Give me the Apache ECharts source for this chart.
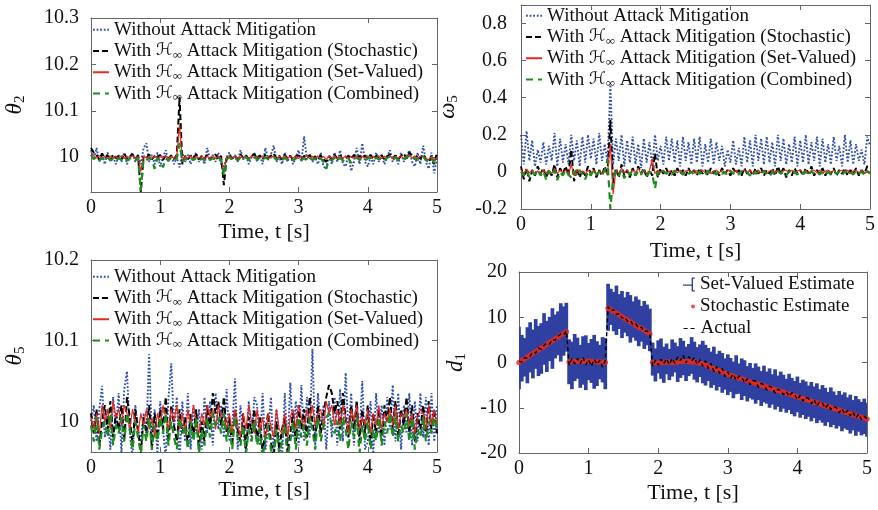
<!DOCTYPE html>
<html><head><meta charset="utf-8">
<script src="https://cdn.jsdelivr.net/npm/echarts@6/dist/echarts.min.js"></script>
<style>html,body{margin:0;padding:0;background:#fff}#c{width:878px;height:510px}</style>
</head><body><div id="c"></div>
<script>
// ---------- data ----------
const T = [0,0.04,0.08,0.12,0.16,0.2,0.24,0.28,0.32,0.36,
0.4,0.44,0.48,0.52,0.56,0.6,0.64,0.68,0.72,0.76,
0.8,0.84,0.88,0.92,0.96,1,1.04,1.08,1.12,1.16,
1.2,1.24,1.28,1.32,1.36,1.4,1.44,1.48,1.52,1.56,
1.6,1.64,1.68,1.72,1.76,1.8,1.84,1.88,1.92,1.96,
2,2.04,2.08,2.12,2.16,2.2,2.24,2.28,2.32,2.36,
2.4,2.44,2.48,2.52,2.56,2.6,2.64,2.68,2.72,2.76,
2.8,2.84,2.88,2.92,2.96,3,3.04,3.08,3.12,3.16,
3.2,3.24,3.28,3.32,3.36,3.4,3.44,3.48,3.52,3.56,
3.6,3.64,3.68,3.72,3.76,3.8,3.84,3.88,3.92,3.96,
4,4.04,4.08,4.12,4.16,4.2,4.24,4.28,4.32,4.36,
4.4,4.44,4.48,4.52,4.56,4.6,4.64,4.68,4.72,4.76,
4.8,4.84,4.88,4.92,4.96,5];

const NAMES = ['Without Attack Mitigation',
  'With ℋ∞ Attack Mitigation (Stochastic)',
  'With ℋ∞ Attack Mitigation (Set-Valued)',
  'With ℋ∞ Attack Mitigation (Combined)'];

// theta_2
const TH2_NO = [10.015,9.995,10.02,9.99,10.005,9.985,10.01,9.99,10.0,9.985,
10.005,9.99,10.01,9.985,10.0,10.01,9.99,10.005,9.985,10.02,
10.03,9.99,10.005,9.985,10.01,9.98,10.0,10.015,9.99,10.005,
9.985,10.0,9.978,10.01,9.99,10.005,9.985,10.0,10.01,9.99,
10.0,9.985,10.02,9.995,10.005,9.99,10.01,9.985,9.98,10.0,
10.01,9.995,10.005,9.99,10.015,9.995,10.005,9.985,10.0,10.01,
9.99,10.005,9.985,10.02,9.995,10.005,10.025,9.99,10.0,9.985,
10.01,9.99,10.005,9.985,10.0,10.015,9.99,10.045,9.995,10.005,
9.99,10.0,9.985,10.01,9.98,9.975,10.005,9.985,10.01,9.99,
10.015,9.985,9.98,10.005,9.97,9.99,10.02,9.985,10.03,9.99,
9.98,10.0,9.985,10.01,9.99,10.005,9.985,10.0,10.015,9.99,
10.005,9.985,10.01,9.99,10.0,10.015,9.99,9.98,10.01,9.985,
10.025,9.99,9.975,10.01,9.965,10.0];
const TH2_ST = [10.02,10.01,10.005,9.995,10.008,9.998,10.004,9.993,10.006,9.998,
10.003,9.995,10.008,9.997,10.002,10.006,9.996,10.004,9.925,10.002,
9.997,10.006,9.995,10.003,9.999,10.005,9.994,10.003,9.997,10.004,
9.996,10.005,10.13,9.985,10.003,9.996,10.004,9.998,10.006,9.995,
10.003,9.997,10.005,9.994,10.002,10.006,9.996,10.003,9.94,9.998,
10.005,9.997,10.003,9.995,10.006,9.998,10.004,9.996,10.002,10.007,
9.997,10.004,9.995,10.006,9.998,10.003,10.008,9.997,10.003,9.995,
10.005,9.997,10.003,9.994,10.002,10.004,9.996,10.003,9.998,10.005,
9.996,10.002,9.994,10.004,9.995,9.99,10.002,9.996,10.005,9.997,
10.004,9.995,9.998,10.003,9.996,10.005,9.998,10.003,9.996,10.004,
9.998,10.005,9.996,10.003,9.997,10.004,9.995,10.002,10.006,9.998,
10.004,9.996,10.003,10.008,9.997,10.01,10.004,9.996,10.005,9.997,
10.006,9.996,9.99,10.003,9.985,10.01];
const TH2_SV = [10.01,10.004,9.998,10.003,9.997,10.002,9.998,10.003,9.997,10.002,
9.998,10.003,9.997,10.002,9.998,10.004,9.997,10.002,9.97,10.003,
9.998,10.002,9.997,10.003,9.996,10.002,9.998,10.003,9.997,10.002,
9.998,10.003,10.07,9.99,10.002,9.998,10.003,9.997,10.002,9.998,
10.003,9.997,10.002,9.998,10.004,9.997,10.002,9.998,9.965,10.002,
10.003,9.997,10.002,9.998,10.004,9.998,10.002,9.997,10.003,9.998,
10.002,9.998,10.003,9.997,10.002,9.998,10.003,9.997,10.002,9.998,
10.003,9.997,10.002,9.998,10.003,9.997,10.002,9.998,10.004,9.997,
10.002,9.998,10.003,9.997,10.002,9.995,10.002,9.998,10.003,9.997,
10.002,9.998,10.003,9.997,10.002,9.998,10.003,9.997,10.002,9.998,
10.003,9.997,10.002,9.998,10.003,9.997,10.002,9.998,10.004,9.997,
10.002,9.998,10.003,9.997,10.002,10.005,9.998,10.003,9.997,10.002,
10.003,9.997,9.995,10.002,9.992,10.0];
const TH2_CO = [10.005,9.996,10.0,9.993,9.998,9.994,10.0,9.993,9.997,9.992,
9.998,9.994,10.0,9.993,9.997,10.0,9.993,9.998,9.928,9.996,
9.993,9.999,9.994,9.975,9.998,9.993,9.978,9.997,9.993,9.999,
9.994,9.997,10.03,9.99,9.997,9.993,9.999,9.994,9.998,9.992,
9.997,9.993,9.999,9.994,9.998,9.993,9.999,9.994,9.96,9.995,
10.0,9.994,9.998,9.993,9.999,9.995,10.0,9.994,9.998,10.001,
9.995,9.999,9.994,10.0,9.995,9.998,10.001,9.994,9.998,9.993,
9.999,9.994,9.998,9.993,9.997,10.0,9.994,9.998,9.993,9.999,
9.994,9.997,9.992,9.998,9.99,9.975,9.996,9.993,9.999,9.994,
9.998,9.993,9.99,9.997,9.988,9.994,9.999,9.994,9.998,9.993,
9.997,10.0,9.994,9.999,9.995,9.998,9.993,9.999,10.001,9.995,
9.999,9.994,9.998,9.995,10.0,10.002,9.995,9.999,9.994,9.998,
10.001,9.994,9.99,9.998,9.988,9.996];

// omega_5
const OM5_NO = [0.2,0.04,0.22,0.06,0.17,0.03,0.12,0.05,0.16,0.04,
0.14,0.06,0.21,0.03,0.18,0.05,0.15,0.04,0.2,0.06,
0.17,0.03,0.19,0.05,0.2,0.07,0.18,0.04,0.21,0.06,
0.15,0.05,0.47,0.04,0.18,0.06,0.2,0.03,0.17,0.05,
0.19,0.04,0.15,0.02,0.18,0.05,0.16,0.03,0.2,0.06,
0.14,0.04,0.19,0.06,0.18,0.05,0.17,0.03,0.19,0.06,
0.16,0.04,0.18,0.05,0.19,0.03,0.15,0.05,0.18,0.04,
0.16,0.06,0.14,0.03,0.12,0.05,0.17,0.04,0.13,0.03,
0.19,0.05,0.17,0.03,0.2,0.06,0.18,0.04,0.19,0.05,
0.16,0.03,0.2,0.06,0.18,0.04,0.15,0.05,0.19,0.03,
0.17,0.05,0.2,0.04,0.16,0.06,0.19,0.03,0.18,0.05,
0.15,0.04,0.19,0.06,0.14,0.03,0.2,0.05,0.17,0.04,
0.15,0.06,0.12,0.04,0.19,0.14];
const OM5_ST = [0.03,-0.04,0.02,-0.05,0.01,-0.02,0.03,-0.01,0.02,-0.03,
0.01,-0.02,0.04,-0.03,0.02,-0.01,0.03,-0.02,0.12,-0.05,
0.02,-0.03,0.01,-0.02,0.03,-0.01,0.02,-0.03,0.01,-0.02,
0.03,-0.02,0.28,-0.06,0.02,-0.03,0.04,-0.02,0.01,-0.03,
0.02,-0.02,0.03,-0.01,0.02,-0.03,0.01,-0.02,0.1,-0.03,
0.02,-0.01,0.02,-0.02,0.01,-0.02,0.02,-0.01,0.01,-0.02,
0.02,-0.01,0.01,-0.02,0.02,-0.01,0.01,-0.02,0.02,-0.01,
0.01,-0.02,0.02,-0.01,0.01,-0.02,0.02,-0.01,0.01,-0.02,
0.02,-0.01,0.01,-0.02,0.02,-0.01,0.02,-0.02,0.01,-0.01,
0.02,-0.02,0.03,-0.01,0.02,-0.03,0.01,-0.02,0.02,-0.01,
0.01,-0.02,0.02,-0.01,0.03,-0.02,0.01,-0.01,0.02,-0.02,
0.01,-0.01,0.02,-0.02,0.01,-0.01,0.02,-0.02,0.01,-0.01,
0.02,-0.02,0.01,-0.01,0.03,0.04];
const OM5_SV = [0.01,-0.01,0.015,-0.005,0.01,-0.01,0.005,-0.01,0.01,-0.005,
0.01,-0.01,0.02,-0.01,0.01,-0.005,0.01,-0.01,0.04,-0.02,
0.01,-0.01,0.005,-0.01,0.01,-0.005,0.01,-0.01,0.005,-0.01,
0.01,-0.01,0.15,-0.12,0.01,-0.01,0.02,-0.005,0.01,-0.01,
0.01,-0.005,0.02,-0.01,0.01,-0.01,0.005,0.07,-0.01,0.01,
-0.005,0.01,-0.01,0.005,-0.005,0.01,-0.005,0.01,-0.01,0.005,
0.01,-0.005,0.01,-0.01,0.005,0.01,-0.005,0.01,-0.01,0.005,
0.01,-0.005,0.01,-0.01,0.005,0.01,-0.005,0.01,-0.01,0.005,
0.01,-0.005,0.01,-0.01,0.005,0.01,-0.005,0.01,-0.01,0.005,
0.01,-0.005,0.01,-0.01,0.005,0.01,-0.005,0.01,-0.01,0.005,
0.01,-0.005,0.01,-0.01,0.005,0.01,-0.005,0.01,-0.01,0.005,
0.01,-0.005,0.01,-0.01,0.005,0.01,-0.005,0.01,-0.01,0.005,
0.01,-0.005,0.01,-0.01,0.005,0.0];
const OM5_CO = [0.0,-0.02,0.01,-0.03,0.0,-0.015,0.01,-0.02,0.005,-0.04,
0.005,-0.02,0.01,-0.045,0.0,-0.02,0.01,-0.015,-0.03,0.005,
-0.02,0.01,-0.015,-0.04,0.005,-0.02,0.01,-0.015,0.0,-0.02,
0.01,0.065,-0.2,-0.03,0.005,-0.02,0.01,-0.035,0.0,-0.015,
0.01,-0.02,0.005,-0.015,0.01,-0.02,0.0,-0.01,-0.09,0.0,
-0.015,0.005,-0.01,0.0,-0.015,0.005,-0.01,0.0,-0.015,0.005,
-0.01,0.0,-0.015,0.005,-0.01,0.0,-0.015,0.005,-0.01,0.0,
-0.015,0.005,-0.01,0.0,-0.02,0.005,-0.01,0.0,-0.015,0.005,
-0.01,0.0,-0.02,0.005,-0.01,0.0,-0.015,0.005,-0.01,-0.025,
0.0,-0.015,0.005,-0.01,0.0,-0.02,0.005,-0.01,0.0,-0.015,
0.005,-0.01,0.0,-0.02,0.005,-0.01,0.0,-0.015,0.005,-0.01,
0.0,-0.015,0.005,-0.01,0.0,-0.02,0.005,-0.01,0.0,-0.015,
0.005,-0.01,0.0,-0.015,0.005,-0.01];

// theta_5
const TH5_NO = [10.0,10.02,9.975,10.015,10.044,9.98,10.01,9.965,10.03,9.99,
10.035,9.96,10.04,10.062,9.985,9.955,10.02,9.99,9.975,10.01,
9.985,10.083,9.975,10.015,9.96,10.025,9.99,9.955,10.03,10.072,
9.99,10.03,9.95,10.025,9.975,10.035,9.965,10.02,9.985,10.015,
9.965,10.03,9.985,10.025,9.97,10.035,9.99,10.02,9.98,10.04,
9.975,9.99,10.053,9.965,10.02,9.985,9.96,10.025,9.975,10.03,
10.02,9.97,10.035,9.965,9.99,10.03,9.96,10.015,9.975,9.95,
10.035,9.97,10.048,9.98,10.025,9.97,10.045,9.975,10.03,9.98,
10.09,9.97,10.035,9.985,10.02,9.965,10.025,9.98,10.03,9.97,
10.04,9.975,10.06,9.985,10.035,9.97,10.025,9.98,10.05,9.965,
9.975,10.025,9.96,10.035,9.985,10.02,9.97,10.03,9.99,10.045,
9.975,10.035,9.965,10.02,9.985,10.035,9.97,10.025,9.975,10.035,
9.98,10.03,9.97,10.035,9.975,10.02];
const TH5_ST = [10.01,9.985,10.015,9.97,10.0,10.02,9.99,10.025,9.98,10.01,
9.99,10.02,9.975,10.03,10.005,9.97,10.015,9.99,9.96,10.005,
9.985,10.02,9.965,10.01,9.98,10.015,9.99,10.03,9.975,10.02,
9.995,9.975,10.015,9.985,10.005,9.97,10.01,9.98,10.015,9.965,
10.0,9.975,10.02,9.99,10.035,10.01,10.025,9.995,10.03,9.985,
10.005,9.97,10.015,9.99,9.975,10.01,9.965,10.005,9.985,10.015,
9.975,10.005,9.96,9.99,10.01,9.975,9.955,10.0,9.965,9.99,
10.005,9.96,9.985,10.01,9.975,10.02,9.99,10.015,9.98,10.03,
10.0,9.975,10.02,9.985,10.01,10.03,10.045,10.035,10.01,10.025,
9.99,10.035,10.005,9.98,10.02,9.99,10.025,9.975,10.015,9.985,
10.02,9.97,10.01,9.985,10.015,9.975,10.02,10.0,10.03,9.99,
10.025,9.98,10.015,9.995,10.03,9.985,10.02,9.975,10.01,9.99,
10.02,9.98,10.025,9.99,10.015,9.985];
const TH5_SV = [10.005,9.99,10.01,9.985,10.02,10.0,10.015,9.99,10.025,10.005,
10.015,9.995,10.02,10.01,9.99,10.015,10.0,9.985,10.01,9.995,
10.015,9.99,10.005,9.98,10.01,9.995,10.02,10.005,9.99,10.015,
10.0,10.02,9.99,10.01,9.985,10.015,9.995,10.02,10.0,9.985,
10.01,9.995,10.02,10.005,10.015,9.99,10.02,10.005,10.01,9.99,
10.01,9.985,10.015,9.995,9.98,10.01,9.99,10.02,10.0,9.985,
10.015,9.99,10.005,9.975,10.01,9.995,9.98,10.015,9.99,9.985,
10.01,9.98,10.005,10.015,9.99,10.02,10.005,9.99,10.015,10.0,
10.02,9.995,10.01,10.015,9.99,10.025,10.01,10.02,9.995,10.015,
9.995,10.02,10.005,9.985,10.015,10.0,10.02,9.99,10.005,9.995,
10.015,9.985,10.01,9.995,10.02,9.99,10.01,10.0,10.015,9.995,
10.02,9.99,10.01,10.005,10.015,9.995,10.01,9.985,10.005,10.015,
10.01,9.99,10.02,9.995,10.015,9.995];
const TH5_CO = [9.995,9.975,10.005,9.965,9.99,10.0,9.98,10.01,9.97,9.995,
9.985,10.005,9.975,10.01,9.99,9.965,10.0,9.98,9.96,9.995,
9.975,10.005,9.965,9.995,9.975,10.005,9.985,10.01,9.97,10.0,
9.98,9.965,10.005,9.985,9.995,9.965,10.0,9.975,10.005,9.96,
9.99,9.97,10.005,9.98,10.01,9.995,10.005,9.985,10.01,9.975,
9.995,9.965,10.005,9.98,9.97,9.995,9.96,9.99,9.975,10.0,
9.97,9.99,9.955,9.98,9.995,9.965,9.955,9.99,9.96,9.975,
9.995,9.955,9.975,10.0,9.965,10.005,9.98,9.995,9.97,10.005,
9.99,9.965,10.005,9.975,9.995,10.005,10.01,9.995,9.985,10.0,
9.975,10.005,9.99,9.965,10.0,9.98,10.005,9.96,9.995,9.975,
10.0,9.965,9.99,9.975,10.005,9.97,10.0,9.985,10.01,9.98,
10.005,9.975,9.995,9.985,10.01,9.975,10.005,9.965,9.99,9.98,
10.005,9.975,10.0,9.985,10.005,9.99];

// d_1
const D1_STOCH = [0,0.4,0.8,1.2,1.6,2,2.4,2.8,3.2,3.6,4,4.4,4.8,5.2,5.6,6,6.4,6.8,
0.1,0.2,0.2,0.3,0.3,0.3,0.2,0.3,0.2,0.2,0.1,0.1,0.1,0,
12,11.6,11.3,10.9,10.5,10.1,9.7,9.4,9,8.6,8.2,7.8,7.5,7.1,6.7,6.3,
0,-0.1,-0.1,0,0,0.1,0.1,0,0,0.1,0.2,0.2,0.2,0.2,0.1,0.1,0,-0.1,-0.3,
-0.5,-0.8,-1.1,-1.35,-1.6,-1.85,-2.1,-2.4,
-2.65,-2.85,-3.04,-3.24,-3.44,-3.64,-3.83,-4.03,-4.23,-4.42,
-4.62,-4.82,-5.01,-5.21,-5.41,-5.61,-5.8,-6,-6.2,-6.39,
-6.59,-6.79,-6.98,-7.18,-7.38,-7.58,-7.77,-7.97,-8.17,-8.36,
-8.56,-8.76,-8.95,-9.15,-9.35,-9.55,-9.74,-9.94,-10.14,-10.33,
-10.53,-10.73,-10.92,-11.12,-11.32,-11.52,-11.71,-11.91,-12.11,-12.3,
-12.5];
const D1_ACT = [0.3,0.1,1.1,0.9,1.4,2.3,2.1,3.2,2.9,3.8,4.3,4.1,5.1,4.9,5.8,6.3,6.1,7.0,
-0.6,0.8,-0.3,0.9,-0.2,1.1,-0.5,0.6,-0.8,0.7,-0.4,0.5,-1.0,0.4,
12.3,11.4,11.7,10.6,10.8,9.8,10.0,9.1,9.3,8.3,8.5,7.6,7.8,6.8,7.0,6.1,
-0.8,0.5,-0.6,0.7,-0.3,0.8,-0.5,0.9,-0.2,1.2,0.4,1.6,-0.1,1.3,0.3,1.1,-0.4,0.6,-0.8,
0.4,-1.3,-0.2,-2.0,-0.9,-2.4,-1.3,-3.1,
-2.1,-3.4,-2.6,-3.9,-3.0,-3.2,-4.5,-3.6,-4.9,-4.0,
-4.1,-5.5,-4.6,-5.0,-6.1,-5.2,-5.6,-6.8,-5.9,-6.2,
-7.1,-6.4,-7.5,-6.7,-7.0,-8.2,-7.3,-8.5,-7.7,-8.0,
-9.1,-8.2,-9.6,-8.7,-9.0,-10.1,-9.3,-10.4,-9.7,-10.0,
-11.1,-10.2,-11.4,-10.6,-11.8,-11.0,-12.3,-11.4,-12.6,-11.9,
-12.4];
const D1_HI = [7.9,6.1,5.4,7.8,8.9,7.3,9.6,8.1,8.7,10.9,9.2,10.1,12.0,10.6,11.3,13.1,12.4,13.2,
5.1,4.6,6.3,5.5,3.9,5.8,6.0,4.3,5.2,6.1,4.7,3.9,5.6,5.4,
17.4,16.3,15.6,17.0,15.1,15.8,14.4,15.6,14.9,13.5,14.6,13.9,12.5,13.6,12.8,11.9,
4.4,3.1,4.9,5.3,3.5,4.2,3.0,5.1,4.4,3.6,5.4,4.8,3.5,4.1,5.6,4.6,3.4,4.0,4.8,
3.9,3.2,2.4,3.5,1.9,2.6,2.1,0.9,
1.8,1.0,0.2,1.6,-0.2,0.9,0.5,-0.8,-0.1,-1.2,
-0.2,-0.9,-1.9,-0.7,-2.0,-1.3,-2.6,-1.5,-2.9,-2.0,
-2.7,-3.6,-2.5,-3.4,-4.1,-3.1,-4.5,-3.8,-4.2,-5.1,
-4.3,-5.3,-4.6,-5.9,-5.0,-5.6,-6.5,-5.5,-6.4,-7.2,
-6.3,-7.1,-6.6,-7.7,-7.1,-8.3,-7.4,-8.1,-8.7,-8.0,
-8.9];
const D1_LO = [-5.9,-4.2,-3.1,-4.6,-2.2,-3.5,-1.4,-3.0,-2.5,-0.5,-2.1,0.3,-1.4,0.9,1.6,0.2,1.5,2.4,
-4.8,-5.9,-4.1,-3.6,-5.6,-4.9,-6.1,-3.9,-4.5,-5.8,-5.2,-3.7,-4.4,-5.9,
7.0,8.3,6.9,6.1,7.4,5.4,6.6,5.8,4.4,5.5,4.8,3.6,4.6,3.0,3.8,2.5,
-2.9,-4.2,-2.4,-3.6,-4.5,-2.6,-3.9,-3.1,-2.2,-4.3,-3.4,-2.8,-4.1,-3.0,-2.5,-3.8,-4.4,-3.2,-4.6,
-5.1,-4.1,-5.6,-5.0,-6.2,-5.4,-6.7,-6.0,
-7.2,-6.5,-7.9,-7.0,-6.9,-8.3,-7.4,-8.6,-7.9,-8.2,
-9.1,-8.3,-9.6,-8.8,-9.1,-10.0,-9.3,-10.4,-9.8,-10.9,
-10.2,-11.1,-10.5,-11.4,-11.9,-11.0,-12.2,-11.6,-12.5,-12.0,
-13.0,-12.3,-13.4,-12.8,-13.3,-14.0,-13.2,-14.3,-13.8,-14.6,
-14.1,-15.2,-14.6,-14.9,-15.7,-15.0,-16.2,-15.3,-16.1,-15.8,
-16.4];
const D1_NAMES = ['Set-Valued Estimate','Stochastic Estimate','Actual'];

// ---------- styling ----------
const SERIF = "'Liberation Serif','Times New Roman',serif";
const TXT = '#111';
const AX = '#666';
const C_BLUE = '#3050b0', C_BLACK = '#000', C_RED = '#e8281e', C_GREEN = '#1e8c1e', C_BAND = '#2f40a0';

const GRIDS = [
  {left:91, top:18, width:346, height:174},
  {left:521, top:5, width:349, height:204},
  {left:91, top:260, width:346, height:192},
  {left:519, top:272, width:348, height:181}
];
const YCFG = [
  {min:9.925, max:10.3, split:4, showMin:false, showMax:true, margin:12, name:'{i|θ}{b|2}', gap:63},
  {min:-0.2, max:0.9, split:5, showMin:true, showMax:false, margin:14, name:'{i|ω}{b|5}', gap:60},
  {min:9.962, max:10.2, split:3, showMin:false, showMax:true, margin:12, name:'{i|θ}{b|5}', gap:63},
  {min:-20, max:20, interval:10, showMin:true, showMax:true, margin:12, name:'{i|d}{b|1}', gap:50}
];
const XGAP = [29, 31, 25, 29];

const nameRich = {
  i:{fontFamily:SERIF, fontStyle:'italic', fontSize:23, lineHeight:26, color:TXT},
  b:{fontFamily:SERIF, fontSize:15, lineHeight:12, verticalAlign:'bottom', color:TXT}
};

const xAxes = [], yAxes = [];
GRIDS.forEach((g, gi) => {
  ['bottom','top'].forEach(pos => {
    const main = pos === 'bottom';
    xAxes.push({
      type:'value', gridIndex:gi, position:pos, min:0, max:5, interval:1,
      axisLine:{show:true, onZero:false, lineStyle:{color:AX, width:1}},
      axisTick:{show:true, inside:true, length:5, lineStyle:{color:AX}},
      axisLabel:{show:main, color:TXT, fontSize:20, fontFamily:SERIF, margin:6},
      splitLine:{show:false},
      name: main ? 'Time, t [s]' : '', nameLocation:'middle', nameGap:XGAP[gi],
      nameTextStyle:{fontFamily:SERIF, fontSize:22, color:TXT}
    });
  });
  ['left','right'].forEach(pos => {
    const main = pos === 'left';
    const c = YCFG[gi];
    const ax = {
      type:'value', gridIndex:gi, position:pos, min:c.min, max:c.max, splitNumber:c.split,
      axisLine:{show:true, onZero:false, lineStyle:{color:AX, width:1}},
      axisTick:{show:true, inside:true, length:5, lineStyle:{color:AX}},
      axisLabel:{show:main, color:TXT, fontSize:20, fontFamily:SERIF, margin:c.margin,
        showMinLabel:c.showMin, showMaxLabel:c.showMax},
      splitLine:{show:false}
    };
    if (c.interval) ax.interval = c.interval;
    if (main) Object.assign(ax, {name:c.name, nameLocation:'middle', nameRotate:90, nameGap:c.gap,
      nameTextStyle:{rich:nameRich}});
    yAxes.push(ax);
  });
});

const STYLES = [
  {color:C_BLUE, width:1.9, type:[1.8,1.8]},
  {color:C_BLACK, width:2, type:[6,3]},
  {color:C_RED, width:1.2, type:'solid'},
  {color:C_GREEN, width:2.2, type:[7,5]}
];
const PANELS = [
  [TH2_NO, TH2_ST, TH2_SV, TH2_CO],
  [OM5_NO, OM5_ST, OM5_SV, OM5_CO],
  [TH5_NO, TH5_ST, TH5_SV, TH5_CO]
];
const series = [];
PANELS.forEach((arrs, gi) => {
  arrs.forEach((ys, k) => {
    series.push({
      type:'line', name:NAMES[k], xAxisIndex:gi*2, yAxisIndex:gi*2,
      data:T.map((t,i)=>[t, ys[i]]), symbol:'none', clip:true,
      lineStyle:{color:STYLES[k].color, width:STYLES[k].width, type:STYLES[k].type},
      itemStyle:{color:STYLES[k].color}, z:2+k
    });
  });
});
series.push({
  type:'custom', name:D1_NAMES[0], xAxisIndex:6, yAxisIndex:6, clip:true,
  data:T.map((t,i)=>[t, D1_LO[i], D1_HI[i]]),
  encode:{x:0, y:[1,2]},
  itemStyle:{color:C_BAND},
  renderItem:(params, api) => {
    const t = api.value(0);
    const top = api.coord([t, api.value(2)]);
    const bot = api.coord([t, api.value(1)]);
    const w = api.size([0.04, 0])[0] + 0.9;
    return {type:'rect', shape:{x:top[0]-w/2, y:top[1], width:w, height:bot[1]-top[1]},
      style:{fill:C_BAND}};
  }, z:2
});
series.push({
  type:'scatter', name:D1_NAMES[1], xAxisIndex:6, yAxisIndex:6,
  data:T.map((t,i)=>[t, D1_STOCH[i]]), symbol:'circle', symbolSize:5.5,
  itemStyle:{color:C_RED}, z:3
});
series.push({
  type:'line', name:D1_NAMES[2], xAxisIndex:6, yAxisIndex:6,
  data:T.map((t,i)=>[t, D1_ACT[i]]), symbol:'none',
  lineStyle:{color:C_BLACK, width:1.5, type:[4,3]}, itemStyle:{color:C_BLACK}, z:4
});

const legRich = {
  h:{fontFamily:"'DejaVu Serif','DejaVu Sans',serif", fontSize:17, lineHeight:21.3, color:TXT},
  s:{fontFamily:SERIF, fontSize:13, lineHeight:11, verticalAlign:'bottom', color:TXT}
};
function mainLegend(left, top) {
  return {
    orient:'vertical', left:left, top:top, padding:0, itemGap:0, itemWidth:16, itemHeight:10,
    selectedMode:false, data:NAMES,
    itemStyle:{opacity:0},
    formatter:n => n.replace('ℋ∞', '{h|ℋ}{s|∞}'),
    textStyle:{fontFamily:SERIF, fontSize:19, lineHeight:21.3, color:TXT, rich:legRich}
  };
}
function oneLegend(name, left, top, w, h, icon, extra) {
  return Object.assign({
    orient:'vertical', left:left, top:top, padding:0, itemGap:0, itemWidth:w, itemHeight:h,
    selectedMode:false, data:[icon ? {name, icon} : name],
    textStyle:{fontFamily:SERIF, fontSize:19, lineHeight:21, color:TXT}
  }, extra || {});
}
const legends = [
  mainLegend(92, 19),
  mainLegend(525, 5),
  mainLegend(92, 266),
  oneLegend(D1_NAMES[0], 683, 274, 12, 14,
    'path://M0,9.4h8v1.2h-8z M8,3h1.3v13h-1.3z M8,3h3v1.2h-3z M8,14.8h3v1.2h-3z'),
  oneLegend(D1_NAMES[1], 691, 296, 4, 4, 'circle'),
  oneLegend(D1_NAMES[2], 683, 318, 12, 8, null, {lineStyle:{width:1.2}, itemStyle:{opacity:0}})
];

const chart = echarts.init(document.getElementById('c'), null, {renderer:'canvas'});
chart.setOption({
  animation:false,
  backgroundColor:'#fff',
  grid:GRIDS.map(g => Object.assign({containLabel:false, outerBoundsMode:'none'}, g)),
  xAxis:xAxes, yAxis:yAxes, legend:legends, series:series
});
</script></body></html>
